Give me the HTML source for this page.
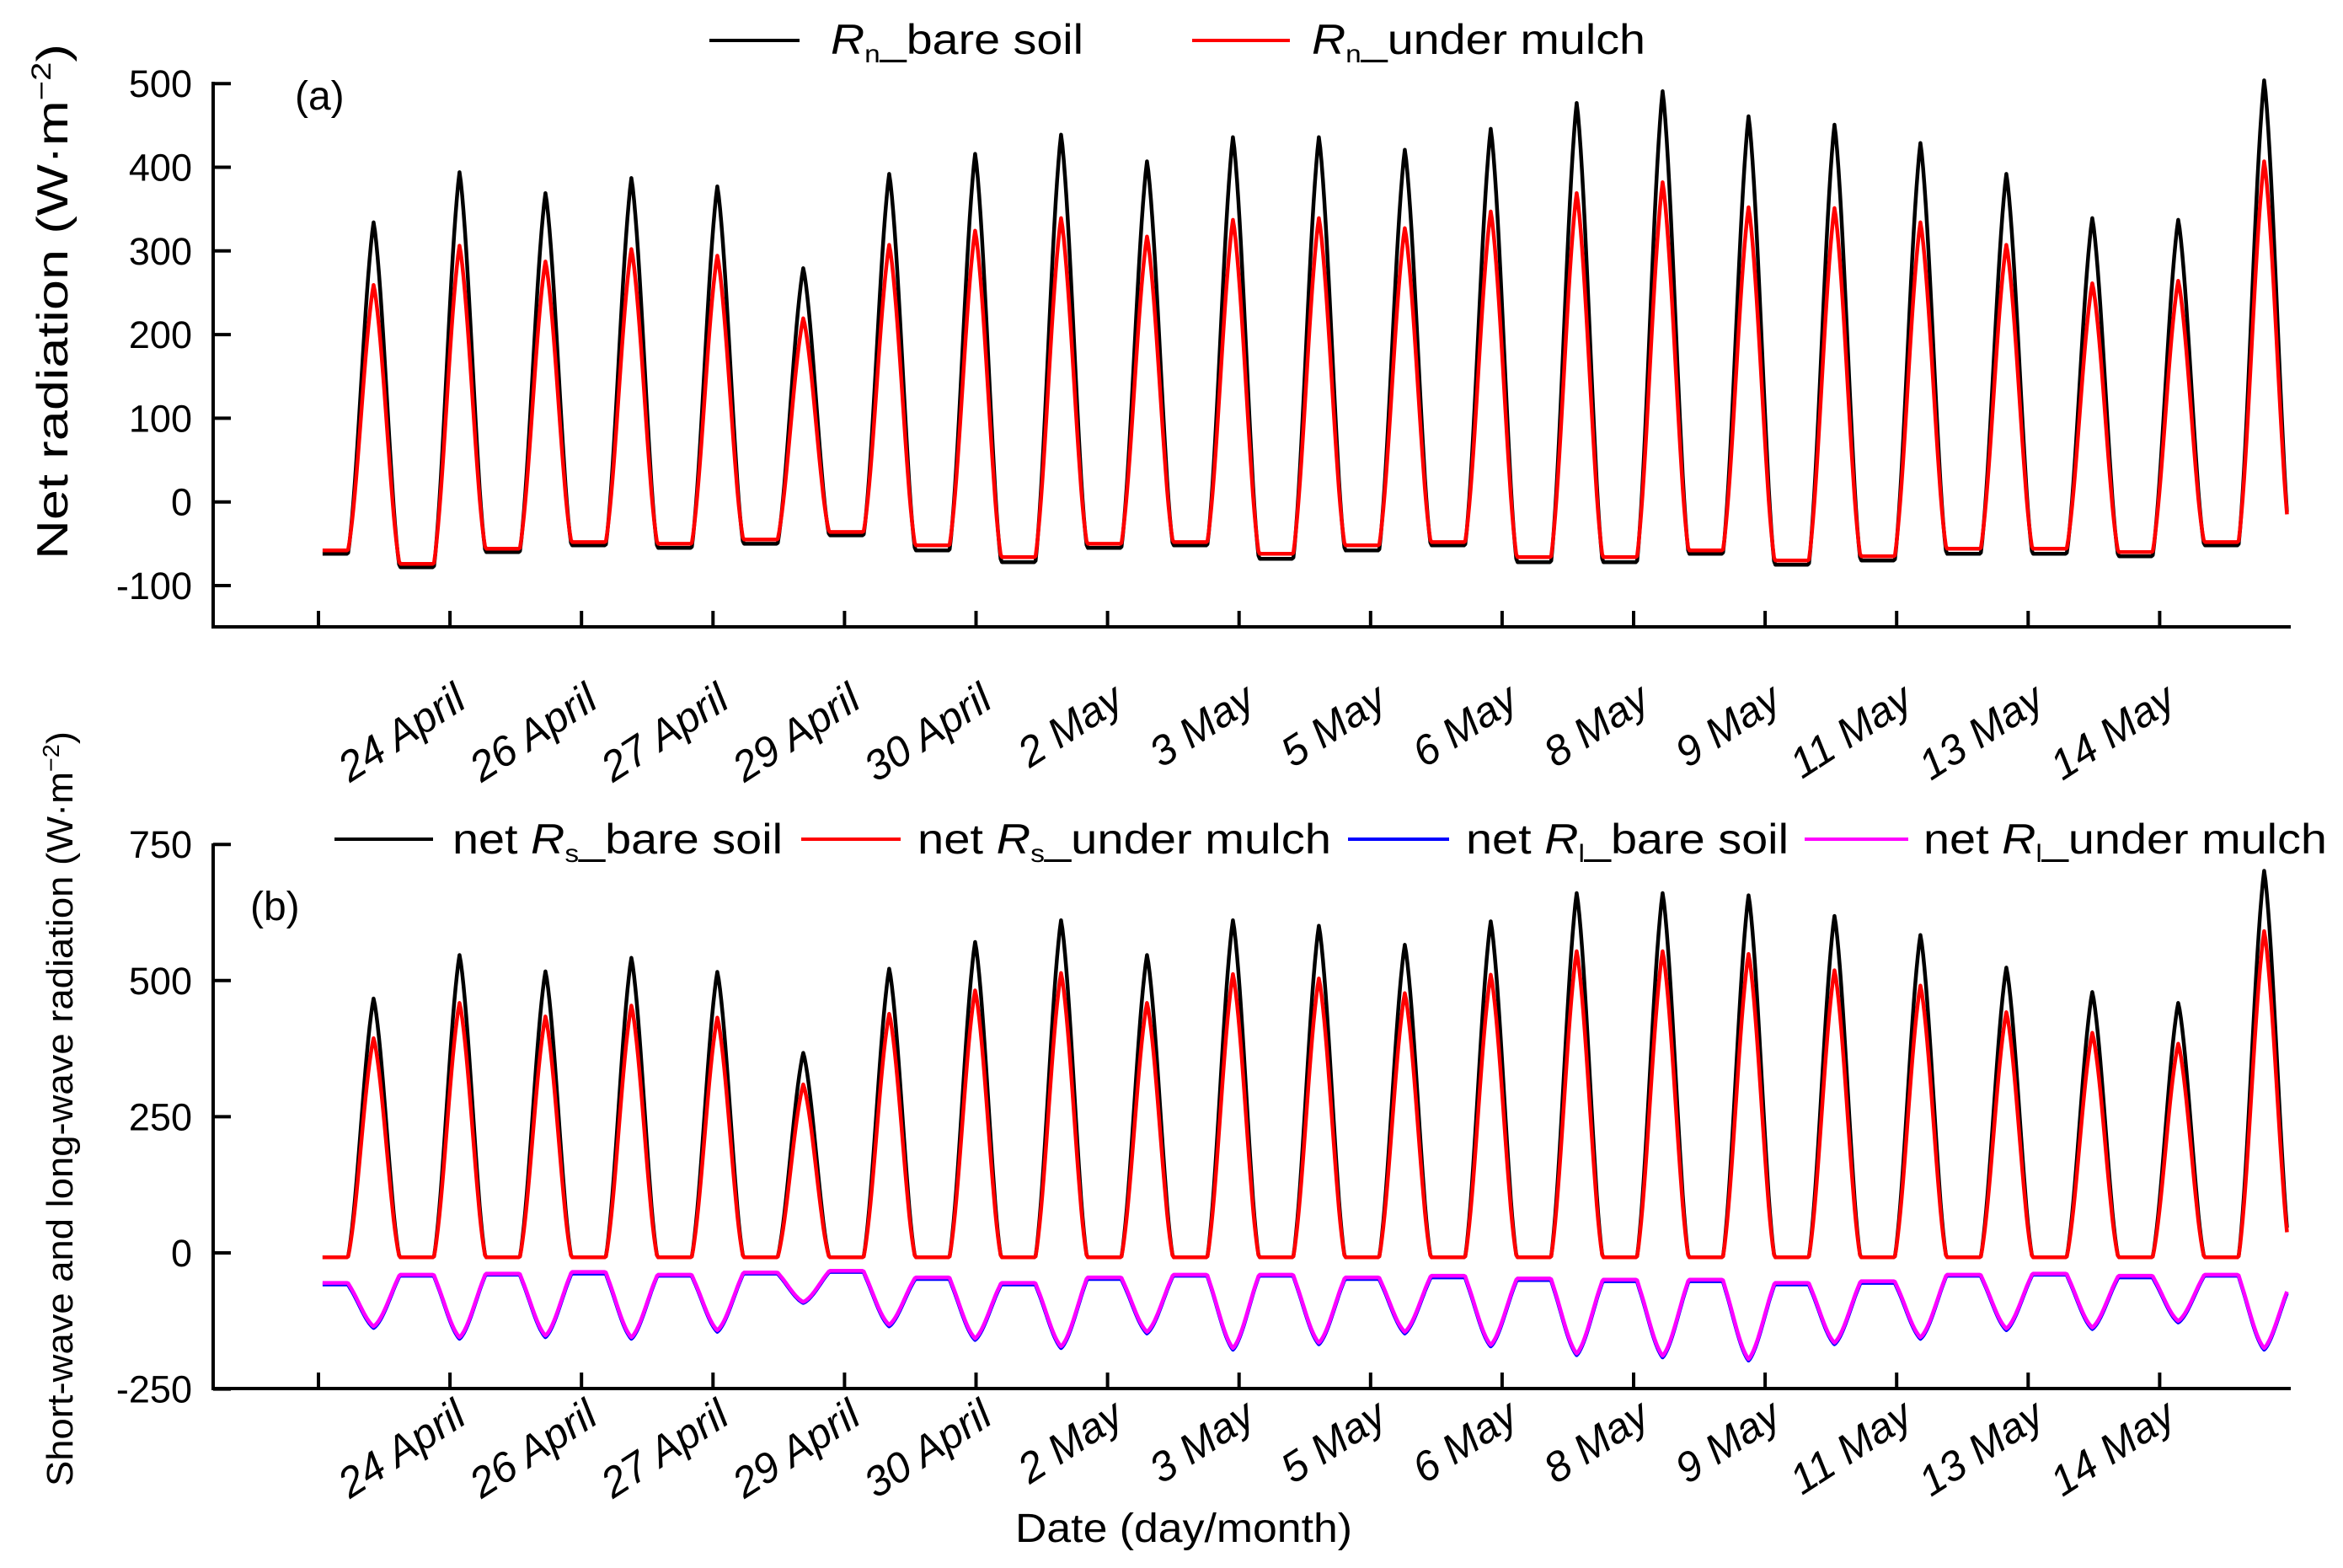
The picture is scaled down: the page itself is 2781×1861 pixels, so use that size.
<!DOCTYPE html>
<html><head><meta charset="utf-8">
<style>
html,body{margin:0;padding:0;background:#fff;}
svg{display:block;font-family:"Liberation Sans",Arial,sans-serif;}
</style></head>
<body>
<svg id="chart" width="2781" height="1861" viewBox="0 0 2781 1861" xmlns="http://www.w3.org/2000/svg">
<rect width="2781" height="1861" fill="#fff"/>
<g>
 <g>
  <line x1="842" y1="48" x2="949" y2="48" stroke="#000" stroke-width="4"/>
  <text x="986" y="64" font-size="50" textLength="300" lengthAdjust="spacingAndGlyphs"><tspan font-style="italic">R</tspan><tspan font-size="30" dy="10">n</tspan><tspan dy="-10">_bare soil</tspan></text>
 </g>
 <g>
  <line x1="1415" y1="48" x2="1531" y2="48" stroke="#f00" stroke-width="4"/>
  <text x="1557" y="64" font-size="50" textLength="396" lengthAdjust="spacingAndGlyphs"><tspan font-style="italic">R</tspan><tspan font-size="30" dy="10">n</tspan><tspan dy="-10">_under mulch</tspan></text>
 </g>
</g>
<g>
 <g>
  <line x1="397" y1="996" x2="514" y2="996" stroke="#000" stroke-width="4"/>
  <text x="537" y="1013" font-size="50" textLength="392" lengthAdjust="spacingAndGlyphs">net <tspan font-style="italic">R</tspan><tspan font-size="30" dy="10">s</tspan><tspan dy="-10">_bare soil</tspan></text>
 </g>
 <g>
  <line x1="951" y1="996" x2="1069" y2="996" stroke="#f00" stroke-width="4"/>
  <text x="1089" y="1013" font-size="50" textLength="491" lengthAdjust="spacingAndGlyphs">net <tspan font-style="italic">R</tspan><tspan font-size="30" dy="10">s</tspan><tspan dy="-10">_under mulch</tspan></text>
 </g>
 <g>
  <line x1="1600" y1="996" x2="1720" y2="996" stroke="#00f" stroke-width="4"/>
  <text x="1740" y="1013" font-size="50" textLength="383" lengthAdjust="spacingAndGlyphs">net <tspan font-style="italic">R</tspan><tspan font-size="30" dy="10">l</tspan><tspan dy="-10">_bare soil</tspan></text>
 </g>
 <g>
  <line x1="2142" y1="996" x2="2265" y2="996" stroke="#f0f" stroke-width="4"/>
  <text x="2283" y="1013" font-size="50" textLength="479" lengthAdjust="spacingAndGlyphs">net <tspan font-style="italic">R</tspan><tspan font-size="30" dy="10">l</tspan><tspan dy="-10">_under mulch</tspan></text>
 </g>
</g>
<text x="350" y="130" font-size="48">(a)</text>
<text x="297" y="1092" font-size="48">(b)</text>
<text transform="translate(80,358) rotate(-90)" text-anchor="middle" font-size="52" textLength="612" lengthAdjust="spacingAndGlyphs">Net radiation (W·m<tspan font-size="32" dy="-20">−2</tspan><tspan dy="20">)</tspan></text>
<text transform="translate(86,1316) rotate(-90)" text-anchor="middle" font-size="44" textLength="896" lengthAdjust="spacingAndGlyphs">Short-wave and long-wave radiation (W·m<tspan font-size="28" dy="-16">−2</tspan><tspan dy="16">)</tspan></text>
<text x="1405" y="1830" text-anchor="middle" font-size="48" textLength="400" lengthAdjust="spacingAndGlyphs">Date (day/month)</text>
<g id="plots"></g>
</svg>
<script>
// ---- data (per day) ----
const tickLabels = ["24 April","26 April","27 April","29 April","30 April","2 May","3 May","5 May","6 May","8 May","9 May","11 May","13 May","14 May"];
const yTicksA = [500,400,300,200,100,0,-100];
const yTicksB = [750,500,250,0,-250];
const rnBarePeak = [335,395,370,388,378,280,393,417,440,408,437,437,422,447,478,492,462,452,430,393,340,338,505];
const rnMulchPeak = [260,307,288,303,295,220,308,325,340,318,338,340,328,348,370,383,353,352,335,308,262,265,408];
const rnBareNight = [-62,-78,-60,-52,-55,-50,-40,-58,-72,-55,-52,-68,-58,-52,-72,-72,-62,-75,-70,-62,-62,-65,-52,-55];
const rnMulchNight = [-58,-74,-56,-48,-50,-45,-36,-52,-66,-50,-48,-62,-52,-48,-66,-66,-58,-70,-65,-56,-56,-60,-48,-50];
const rsBarePeak = [468,548,518,543,517,368,523,572,612,548,612,602,567,610,662,662,658,620,585,525,480,460,703];
const rsMulchPeak = [395,460,435,455,433,310,440,483,515,460,513,505,478,512,555,555,550,520,492,443,405,385,592];
const rsNight = [-8,-8,-8,-8,-8,-8,-8,-8,-8,-8,-8,-8,-8,-8,-8,-8,-8,-8,-8,-8,-8,-8,-8,-8];
const rlBareDip = [-138,-158,-155,-158,-145,-92,-135,-160,-175,-148,-178,-168,-148,-172,-188,-192,-198,-168,-158,-142,-140,-128,-178];
const rlMulchDip = [-135,-155,-152,-155,-142,-90,-132,-157,-172,-145,-175,-165,-145,-169,-185,-189,-195,-165,-155,-139,-137,-125,-175];
const rlBareNight = [-58,-42,-40,-38,-42,-38,-35,-48,-58,-48,-42,-42,-48,-45,-50,-52,-52,-58,-55,-42,-40,-45,-42,-60];
const rlMulchNight = [-55,-40,-38,-35,-40,-36,-33,-45,-55,-45,-40,-40,-45,-42,-47,-49,-49,-55,-52,-40,-38,-42,-40,-57];

// ---- geometry ----
const X0 = 253, XR = 2719, DAY0 = 389, DAYW = 102.0, T_START = -0.06, T_END = 22.8;
const TICK0 = 378, TICKW = 156.1;
const A = {top:99, zero:595.7, per:0.993, bottom:744};
const B = {top:1003, zero:1487, per:161.6/250, bottom:1648};
const xT = t => DAY0 + DAYW * t;
const yA = v => A.zero - v * A.per;
const yB = v => B.zero - v * B.per;
const NS = "http://www.w3.org/2000/svg";
const plots = document.getElementById('plots');
function mk(tag, attrs, parent){ const e=document.createElementNS(NS,tag); for(const k in attrs) e.setAttribute(k,attrs[k]); (parent||plots).appendChild(e); return e; }

const W0 = 0.235, WL = 0.6;
function bump(f){
  if(f<W0||f>W0+WL) return 0;
  const u=(f-W0)/WL;
  const tri=1-Math.abs(2*u-1);
  const s=Math.sin(Math.PI*u);
  return 0.5*tri+0.5*s*s;
}
function series(peaks, nights, power){
  const pts=[]; const n=peaks.length;
  for(let t=T_START; t<=T_END+1e-9; t+=1/64){
    let d=Math.floor(t); let f=t-d;
    if(d<0){d=0;f=0;}
    const dd=Math.min(d,n-1);
    const nightV = nights[dd] + (nights[Math.min(dd+1,nights.length-1)]-nights[dd])*Math.max(0,Math.min(1,(f-W0)/WL));
    const b=Math.pow(bump(f),power);
    pts.push([t, nightV + (peaks[dd]-nightV)*b]);
  }
  return pts;
}
function drawLine(pts, yf, color, name){
  const p = mk('polyline',{points:pts.map(q=>xT(q[0]).toFixed(1)+','+yf(q[1]).toFixed(1)).join(' '),fill:'none',stroke:color,'stroke-width':4.5,'stroke-linejoin':'round'});
  
  
}
function axes(P, yf, ticks, labY, name){
  const g = mk('g',{});
  
  
  mk('line',{x1:X0,y1:P.top-2,x2:X0,y2:P.bottom+2,stroke:'#000','stroke-width':4},g);
  mk('line',{x1:X0-2,y1:P.bottom,x2:XR,y2:P.bottom,stroke:'#000','stroke-width':4},g);
  ticks.forEach(v=>{
    const y=yf(v);
    mk('line',{x1:X0,y1:y,x2:X0+21,y2:y,stroke:'#000','stroke-width':4},g);
    const t=mk('text',{x:228,y:y+16,'text-anchor':'end','font-size':45},g);
    t.textContent=v;
    
    
  });
  for(let k=0;k<=tickLabels.length;k++){
    const x=TICK0+TICKW*k;
    mk('line',{x1:x,y1:P.bottom,x2:x,y2:P.bottom-19,stroke:'#000','stroke-width':4},g);
    if(k>0){
      const t=mk('text',{transform:`translate(${x+22},${labY}) rotate(-33)`,'text-anchor':'end','font-size':50,'font-style':'italic'},g);
      t.textContent=tickLabels[k-1];
      
      
    }
  }
}
axes(A, yA, yTicksA, 838, 'axes-a');
axes(B, yB, yTicksB, 1688, 'axes-b');
drawLine(series(rnBarePeak, rnBareNight, 1), yA, '#000', 'line-rn-bare-soil');
drawLine(series(rnMulchPeak, rnMulchNight, 1), yA, '#f00', 'line-rn-under-mulch');
drawLine(series(rsBarePeak, rsNight, 1), yB, '#000', 'line-rs-bare-soil');
drawLine(series(rsMulchPeak, rsNight, 1), yB, '#f00', 'line-rs-under-mulch');
drawLine(series(rlBareDip, rlBareNight, 0.8), yB, '#00f', 'line-rl-bare-soil');
drawLine(series(rlMulchDip, rlMulchNight, 0.8), yB, '#f0f', 'line-rl-under-mulch');
</script>
</body></html>
